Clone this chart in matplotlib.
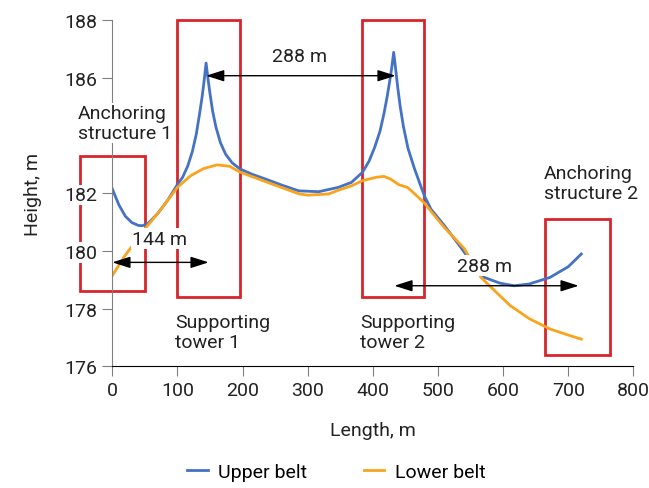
"""Upper and lower belt heights along the ropeway, with towers and anchors marked."""
import matplotlib
matplotlib.use('Agg')
from matplotlib import pyplot
from matplotlib.patches import Rectangle

pyplot.rcParams['font.family'] = ['Roboto', 'DejaVu Sans']

# upper belt
upper_x = [0, 10, 20, 30, 40, 46, 55, 70, 85, 100, 108, 116, 123, 129, 134,
           138, 141, 144, 147, 150, 154, 159, 166, 174, 184, 196, 215, 235,
           260, 286, 317, 347, 367, 384, 394, 403, 411, 417, 422, 426, 429,
           432, 435, 438, 442, 447, 454, 464, 479, 489, 510, 535, 550, 571,
           595, 617, 640, 672, 700, 720]
upper_y = [182.15, 181.6, 181.2, 180.98, 180.88, 180.87, 180.95, 181.3, 181.75,
           182.3, 182.55, 182.95, 183.45, 184.05, 184.75, 185.35, 185.9,
           186.51, 185.95, 185.45, 184.85, 184.3, 183.75, 183.35, 183.05,
           182.84, 182.65, 182.49, 182.28, 182.08, 182.05, 182.2, 182.37,
           182.72, 183.1, 183.6, 184.15, 184.75, 185.35, 185.9, 186.35,
           186.88, 186.3, 185.7, 185.0, 184.3, 183.55, 182.84, 181.91,
           181.45, 180.87, 180.12, 179.65, 179.08, 178.88, 178.79, 178.85,
           179.08, 179.45, 179.89]

# lower belt
lower_x = [0, 10, 20, 33, 50, 70, 100, 120, 140, 161, 180, 197, 235, 286, 300,
           332, 347, 367, 384, 405, 417, 427, 440, 453, 464, 479, 490, 510,
           540, 566, 590, 611, 640, 672, 700, 720]
lower_y = [179.14, 179.5, 179.85, 180.24, 180.76, 181.3, 182.2, 182.6, 182.85,
           182.98, 182.93, 182.72, 182.4, 181.98, 181.93, 181.97, 182.1,
           182.25, 182.43, 182.55, 182.58, 182.49, 182.29, 182.2, 181.98,
           181.66, 181.35, 180.8, 180.09, 179.08, 178.55, 178.1, 177.65,
           177.29, 177.08, 176.94]

x_ticks = [0, 100, 200, 300, 400, 500, 600, 700, 800]
y_ticks = [176, 178, 180, 182, 184, 186, 188]
# the 184 label is hidden behind the anchoring text box in the original
y_tick_labels = ['176', '178', '180', '182', '', '186', '188']

# marked zones: (x0, x1, y0, y1)
zones = [(-50, 50, 178.6, 183.3),
         (100, 196, 178.4, 188.0),
         (384, 479, 178.4, 188.0),
         (665, 764, 176.4, 181.1)]

zone_labels = ['Anchoring\nstructure 1', 'Supporting\ntower 1',
               'Supporting\ntower 2', 'Anchoring\nstructure 2']
zone_label_pos = [(-53, 184.43), (97, 177.19), (380, 177.19), (662, 182.35)]

# span arrows: (x0, x1, y, label, label_x, label_y)
spans = [(144, 435, 186.07, '288 m', 288, 186.75),
         (0, 148, 179.6, '144 m', 73, 180.42),
         (433, 716, 178.79, '288 m', 571, 179.48)]

blue = '#4472C4'
orange = '#F9A41C'
red = '#D7252B'
grey = '#808080'
ink = '#222222'

figure = pyplot.figure(figsize=(6.49, 4.89), dpi=100)
axes = figure.add_axes([0.173, 0.249, 0.803, 0.708])

axes.plot(upper_x, upper_y, color=blue, lw=2, label='Upper belt', zorder=2)
axes.plot(lower_x, lower_y, color=orange, lw=2, label='Lower belt', zorder=2)

for x0, x1, y0, y1 in zones:
    axes.add_patch(Rectangle((x0, y0), x1 - x0, y1 - y0, fill=False,
                             ec=red, lw=2, clip_on=False, zorder=1))

box = dict(fc='white', ec='none', pad=1)
for label, (tx, ty) in zip(zone_labels, zone_label_pos):
    axes.text(tx, ty, label, ha='left', va='center', fontsize=14,
              color=ink, linespacing=1.15, bbox=box, zorder=4)

for x0, x1, y, label, lx, ly in spans:
    axes.annotate('', xy=(x1, y), xytext=(x0, y),
                  arrowprops=dict(arrowstyle='<|-|>,head_length=1.1,head_width=0.35',
                                  mutation_scale=10, color='black', lw=1,
                                  shrinkA=0, shrinkB=0),
                  zorder=3, annotation_clip=False)
    axes.text(lx, ly, label, ha='center', va='center', fontsize=14,
              color=ink, bbox=box, zorder=4)

axes.set_xlim(0, 800)
axes.set_ylim(176, 188)
axes.set_xticks(x_ticks)
axes.set_yticks(y_ticks)
axes.set_yticklabels(y_tick_labels)

axes.spines['top'].set_visible(False)
axes.spines['right'].set_visible(False)
axes.spines['left'].set_color(grey)
axes.spines['bottom'].set_color('black')
axes.tick_params(axis='both', labelsize=14, labelcolor=ink, color=grey,
                 length=7, direction='out')
for lbl in axes.get_yticklabels():
    lbl.set_bbox(dict(fc='white', ec='none', pad=1))

axes.set_xlabel('Length, m', fontsize=14, color=ink, labelpad=16)
axes.set_ylabel('Height, m', fontsize=14, color=ink, labelpad=16)

axes.legend(loc='center', bbox_to_anchor=(0.43, -0.306), ncol=2,
            frameon=False, fontsize=14, handlelength=1.05, handletextpad=0.55,
            columnspacing=2.9)

figure.savefig('out.png', dpi=100)
